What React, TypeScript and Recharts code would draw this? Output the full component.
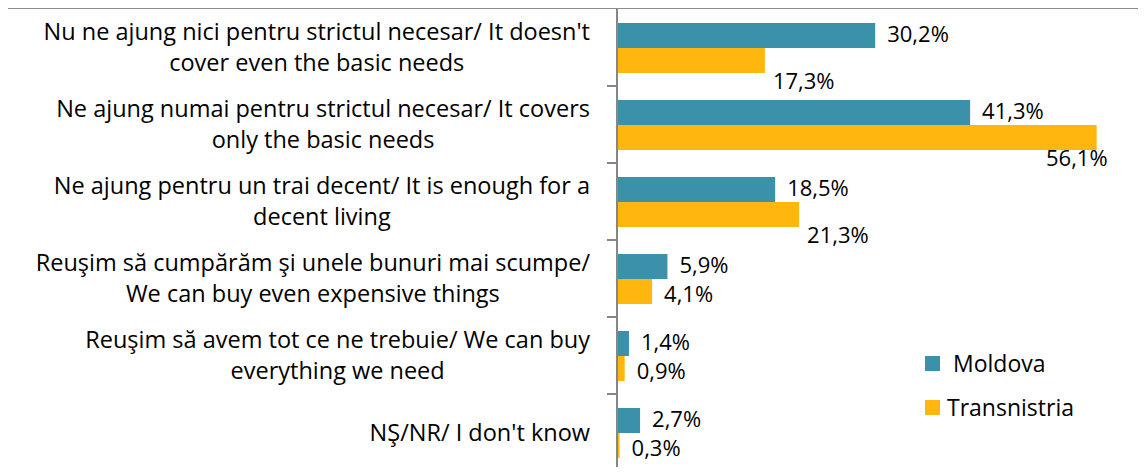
import React, { useLayoutEffect, useRef, useState } from "react";
import { BarChart, Bar, XAxis, YAxis, LabelList } from "recharts";

const categories: string[][] = [
  ["Nu ne ajung nici pentru strictul necesar/ It doesn't", "cover even the basic needs"],
  ["Ne ajung numai pentru strictul necesar/ It covers", "only the basic needs"],
  ["Ne ajung pentru un trai decent/ It is enough for a", "decent living"],
  ["Reuşim să cumpărăm şi unele bunuri mai scumpe/", "We can buy even expensive things"],
  ["Reuşim să avem tot ce ne trebuie/ We can buy", "everything we need"],
  ["NŞ/NR/ I don't know"],
];
const moldova = [30.2, 41.3, 18.5, 5.9, 1.4, 2.7];
const transnistria = [17.3, 56.1, 21.3, 4.1, 0.9, 0.3];
const seriesNames = ["Moldova", "Transnistria"];

const TEAL = "#3A91A9";
const GOLD = "#FFB70F";
const FONT = "'Open Sans', sans-serif";
const W = 1146;
const H = 475;
const AXIS_X = 617;
const TOP = 9;
const BOTTOM = 471;
const BAND = (BOTTOM - TOP) / categories.length;

const data = categories.map((lines, i) => ({
  name: lines.join(" "),
  lines,
  m: moldova[i],
  t: transnistria[i],
}));

const fmt = (v: number) => v.toFixed(1).replace(".", ",") + "%";

function CategoryTick(props: any) {
  const { y, payload, index } = props;
  const lines: string[] = data[index]?.lines ?? [String(payload.value)];
  const ref = useRef<SVGTextElement>(null);
  const [w, setW] = useState(0);
  const right = AXIS_X - 27;
  useLayoutEffect(() => {
    if (ref.current) setW(ref.current.getComputedTextLength());
  }, []);
  const cx = right - w / 2;
  const lh = 31;
  return (
    <g>
      <line x1={AXIS_X - 10} x2={AXIS_X} y1={y + BAND / 2} y2={y + BAND / 2} stroke="#868686" strokeWidth={2} />
      {lines.map((l, k) => {
        const ty = y + (k - (lines.length - 1) / 2) * lh;
        return (
          <text
            key={k}
            ref={k === 0 ? ref : undefined}
            x={k === 0 ? right : cx}
            y={ty}
            dy="0.35em"
            textAnchor={k === 0 ? "end" : "middle"}
            fontFamily={FONT}
            fontSize={23.5}
            fill="#000"
          >
            {l}
          </text>
        );
      })}
    </g>
  );
}

const labelFor = (series: "m" | "t") => (props: any) => {
  const { x, y, width, height, value } = props;
  const xe = x + width;
  let lx = xe + 12;
  let cy = y + height / 2 + (series === "m" ? -1 : 3);
  if (series === "t" && value >= 10) {
    lx = Math.min(xe + 8, W - 100);
    cy = y + height + 8;
  }
  return (
    <text x={lx} y={cy} dy="0.35em" fontFamily={FONT} fontSize={22} fill="#000">
      {fmt(value)}
    </text>
  );
};

function LegendBox() {
  const colors = [TEAL, GOLD];
  return (
    <div style={{ position: "absolute", left: 925, top: 341, fontFamily: FONT, fontSize: 23, color: "#000" }}>
      {seriesNames.map((n, i) => (
        <div key={n} style={{ display: "flex", alignItems: "center", height: 44 }}>
          <span style={{ width: 15, height: 15, background: colors[i], display: "inline-block", marginRight: i === 0 ? 13 : 7 }} />
          <span>{n}</span>
        </div>
      ))}
    </div>
  );
}

export default function App() {
  return (
    <div style={{ position: "relative", margin: -8, width: W, height: H, background: "#fff", overflow: "hidden" }}>
      <BarChart
        width={W}
        height={H}
        data={data}
        layout="vertical"
        margin={{ top: TOP, right: W - 1130, bottom: H - BOTTOM, left: 0 }}
        barCategoryGap={13}
        barGap={0}
      >
        <XAxis type="number" domain={[0, 60]} hide />
        <YAxis
          type="category"
          dataKey="name"
          width={AXIS_X}
          axisLine={{ stroke: "#868686", strokeWidth: 2 }}
          tickLine={false}
          tick={<CategoryTick />}
          interval={0}
        />
        <Bar dataKey="m" name="Moldova" fill={TEAL} barSize={25} isAnimationActive={false}>
          <LabelList dataKey="m" content={labelFor("m")} />
        </Bar>
        <Bar dataKey="t" name="Transnistria" fill={GOLD} barSize={25} isAnimationActive={false}>
          <LabelList dataKey="t" content={labelFor("t")} />
        </Bar>
      </BarChart>
      <LegendBox />
      <div
        style={{
          position: "absolute",
          left: 5,
          top: 7,
          width: W + 20,
          height: H + 20,
          border: "2px solid #8c8c8c",
          pointerEvents: "none",
          zIndex: 2,
        }}
      />
    </div>
  );
}
